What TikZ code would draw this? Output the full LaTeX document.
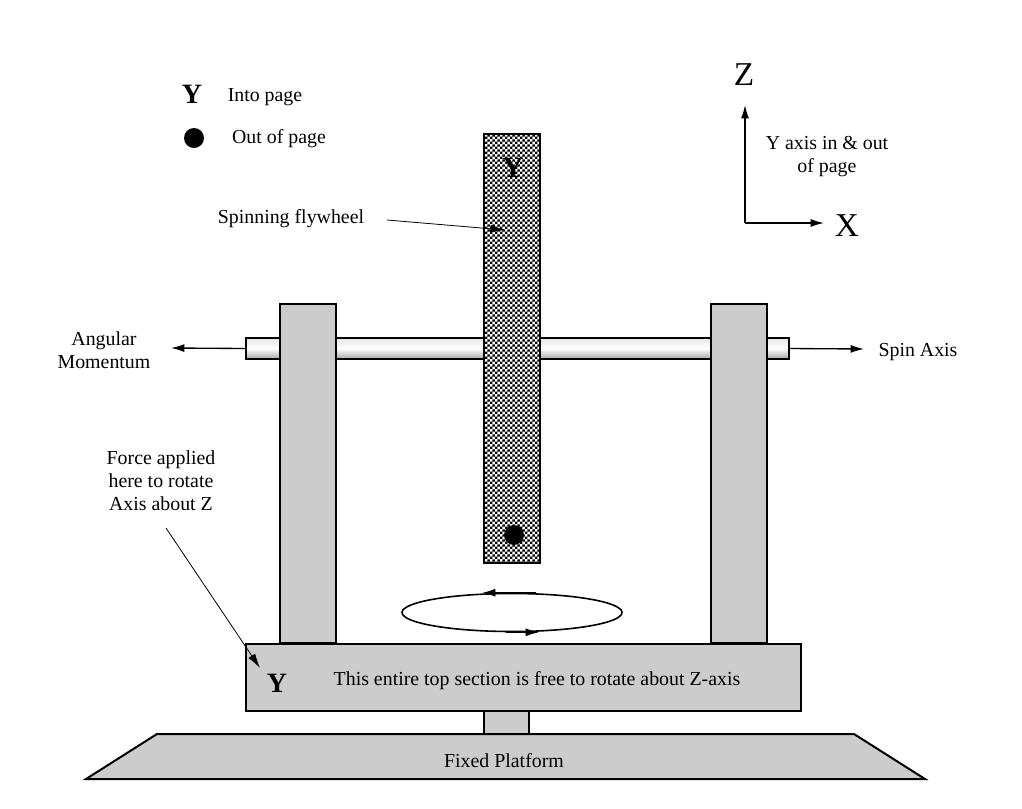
\documentclass[tikz,border=0pt]{standalone}
\usepackage{fontspec}
\setmainfont{Liberation Serif}
\usetikzlibrary{arrows.meta,patterns,shapes.geometric}
\pgfdeclarepatternformonly{checks}{\pgfqpoint{0pt}{0pt}}{\pgfqpoint{4pt}{4pt}}{\pgfqpoint{4pt}{4pt}}{
\pgfpathrectangle{\pgfqpoint{0pt}{0pt}}{\pgfqpoint{2pt}{2pt}}
\pgfpathrectangle{\pgfqpoint{2pt}{2pt}}{\pgfqpoint{2pt}{2pt}}
\pgfusepath{fill}}
\definecolor{partgray}{RGB}{204,204,204}
\tikzset{
part/.style={draw=black,line width=1.5pt,fill=partgray,inner sep=0pt,outer sep=0pt},
label/.style={font=\fontsize{14.9}{17.25}\selectfont,align=center,inner sep=0pt},
biglabel/.style={font=\fontsize{25}{28}\selectfont,inner sep=0pt},
bold/.style={font=\fontsize{21}{24}\selectfont\bfseries,inner sep=0pt},
spot/.style={circle,fill=black,minimum size=15pt,inner sep=0pt},
pointer/.style={-{Latex[length=11pt,width=6pt]},line width=0.6pt},
heavy/.style={-{Latex[length=10pt,width=6pt]},line width=1pt}
}
\begin{document}
\begin{tikzpicture}[x=0.75pt,y=-0.75pt]
\useasboundingbox (0,0) rectangle (1022,808);
% shaft behind everything
\node[part,line width=1.2pt,top color=gray!20,bottom color=gray!70,middle color=white,minimum width=407.25pt,minimum height=15.75pt] (shaft) at (517.5,348.5) {};
\node[part,minimum width=42pt,minimum height=254.25pt] (postL) at (308,473.5) {};
\node[part,minimum width=42pt,minimum height=254.25pt] (postR) at (739,473.5) {};
% flywheel
\node[draw=black,line width=1.5pt,fill=white,minimum width=42pt,minimum height=321.75pt,inner sep=0pt,outer sep=0pt] (wheel) at (512,348.5) {};
\fill[pattern=checks,pattern color=black] (wheel.south west) rectangle (wheel.north east);
\draw[line width=1.5pt] (wheel.south west) rectangle (wheel.north east);
\node[font=\fontsize{22}{24}\selectfont\bfseries,text=black,inner sep=0pt] (wheelY) at (513,168) {Y};
\node[spot] (wheelDot) at (514,535) {};
% base
\node[part,minimum width=33.75pt,minimum height=17pt] (stem) at (506.5,722.5) {};
\node[part,minimum width=416.25pt,minimum height=50.25pt] (base) at (523.5,677.5) {};
\node[label] (baseText) at (537,681) {This entire top section is free to rotate about Z-axis};
\node[bold] (baseY) at (277,683) {Y};
\draw[part] (86,779) coordinate (platSW) -- (157,734) -- (854,734) -- (925,779) -- cycle;
\node[label] (platform) at (504,761) {Fixed Platform};
% rotation ellipse
\node[draw=black,line width=1.2pt,ellipse,minimum width=165pt,minimum height=28.5pt,inner sep=0pt] (orbit) at (512,612.5) {};
\draw[heavy,line width=1.5pt] (orbit.north) ++(24,0) coordinate (orbitA) -- ++(-54,0) coordinate (orbitB);
\draw[heavy] (orbit.south) ++(-6,0) coordinate (orbitC) -- ++(33,0) coordinate (orbitD);
% key
\node[bold] (keyY) at (192,94) {Y};
\node[label] (keyIn) at (265,97) {Into page};
\node[spot] (keyDot) at (194,138) {};
\node[label] (keyOut) at (279,139) {Out of page};
% axes
\coordinate (origin) at (745,223);
\node[biglabel] (axisZ) at (744,75) {Z};
\node[biglabel] (axisX) at (847,226) {X};
\coordinate (tipZ) at (745,105);
\coordinate (tipX) at (824,223);
\draw[heavy] (origin) -- (tipZ);
\draw[heavy] (origin) -- (tipX);
\node[label] (axisNote) at (827,157) {Y axis in \& out\\of page};
% labels with arrows
\node[label] (flyText) at (291,219) {Spinning flywheel};
\coordinate (flyTail) at (387,220);
\coordinate (flyTip) at (505,230);
\draw[pointer] (flyTail) -- (flyTip);
\node[label] (angText) at (104,350) {Angular\\Momentum};
\coordinate (angTip) at (171,348);
\draw[heavy] (shaft.west) -- (angTip);
\node[label] (spinText) at (918,352) {Spin Axis};
\coordinate (spinTip) at (864,349);
\draw[heavy] (shaft.east) -- (spinTip);
\node[label] (forceText) at (161,481) {Force applied\\here to rotate\\Axis about Z};
\coordinate (forceTail) at (166,528);
\coordinate (forceTip) at (260,668);
\draw[pointer] (forceTail) -- (forceTip);
\end{tikzpicture}
\end{document}
